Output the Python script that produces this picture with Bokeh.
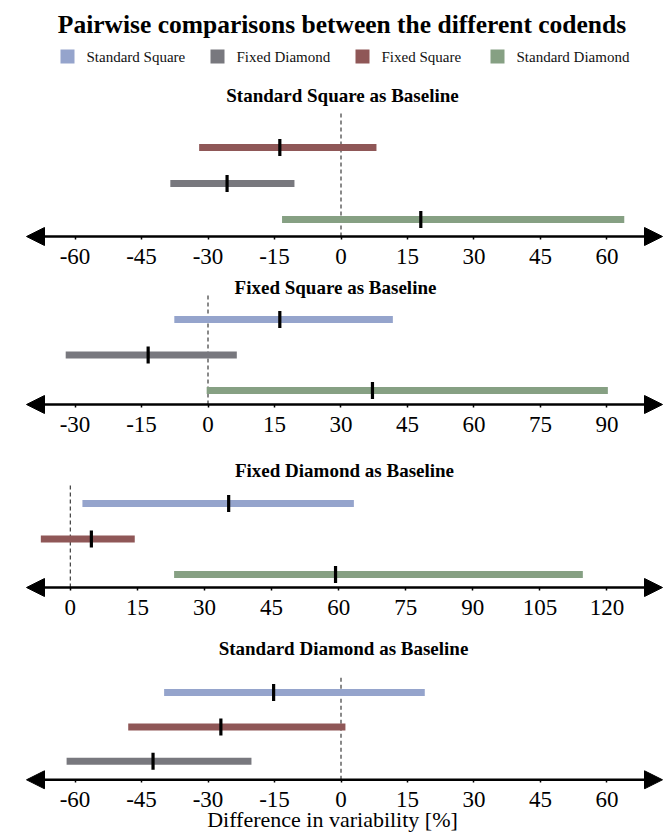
from bokeh.plotting import figure
from bokeh.layouts import column
from bokeh.models import Range1d, FixedTicker, Arrow, NormalHead, ColumnDataSource, Label
from bokeh.embed import file_html
from bokeh.resources import INLINE
from bokeh.core.properties import value

# ---------------- data ----------------
TITLE = "Pairwise comparisons between the different codends"
SERIES = ["Standard Square", "Fixed Diamond", "Fixed Square", "Standard Diamond"]
SERIES_COLORS = ["#95a4cc", "#78787e", "#8f5757", "#86a083"]
X_LABEL = "Difference in variability [%]"

p1_title = "Standard Square as Baseline"
p1_names = ["Fixed Square", "Fixed Diamond", "Standard Diamond"]
p1_low = [-32.0, -38.5, -13.3]
p1_high = [8.0, -10.5, 63.9]
p1_est = [-13.8, -25.7, 18.0]
p1_ticks = [-60, -45, -30, -15, 0, 15, 30, 45, 60]

p2_title = "Fixed Square as Baseline"
p2_names = ["Standard Square", "Fixed Diamond", "Standard Diamond"]
p2_low = [-7.6, -32.1, -0.3]
p2_high = [41.7, 6.5, 90.2]
p2_est = [16.2, -13.5, 37.1]
p2_ticks = [-30, -15, 0, 15, 30, 45, 60, 75, 90]

p3_title = "Fixed Diamond as Baseline"
p3_names = ["Standard Square", "Fixed Square", "Standard Diamond"]
p3_low = [2.7, -6.6, 23.2]
p3_high = [63.4, 14.4, 114.6]
p3_est = [35.4, 4.7, 59.3]
p3_ticks = [0, 15, 30, 45, 60, 75, 90, 105, 120]

p4_title = "Standard Diamond as Baseline"
p4_names = ["Standard Square", "Fixed Square", "Fixed Diamond"]
p4_low = [-39.9, -48.0, -61.9]
p4_high = [18.9, 1.0, -20.2]
p4_est = [-15.2, -27.1, -42.4]
p4_ticks = [-60, -45, -30, -15, 0, 15, 30, 45, 60]

# ---------------- layout (pixels) ----------------
W = 664
FONT = "Liberation Serif"
COLOR_OF = dict(zip(SERIES, SERIES_COLORS))
BELOW = 10  # frame extends this far below the arrow line so the heads are not clipped

# top/bot: y of figure edges, axis: y of arrow line, row1: y of lowest row,
# s: px per row, title: y of panel title, dash: y of top of zero line,
# zero: x px of value 0, ppu: px per unit, tx: x px of title centre
L1 = dict(top=80, bot=270, axis=236, row1=219, s=36.0, title=95, dash=110, zero=340.5, ppu=4.433, tx=342)
L2 = dict(top=270, bot=440, axis=404, row1=390, s=35.5, title=287, dash=295, zero=207.5, ppu=4.433, tx=335)
L3 = dict(top=440, bot=622, axis=587, row1=574, s=35.5, title=470, dash=482, zero=69.85, ppu=4.472, tx=344)
L4 = dict(top=622, bot=834, axis=784, row1=765, s=35.5, title=649, dash=679, zero=340.5, ppu=4.433, tx=343)


def header():
    H = 80
    p = figure(width=W, height=H, x_range=Range1d(0, W), y_range=Range1d(0, H),
               output_backend="svg", toolbar_location=None,
               x_axis_location=None, y_axis_location=None,
               min_border_left=0, min_border_right=0, min_border_top=0, min_border_bottom=0,
               outline_line_color=None, border_fill_color="white")
    p.grid.visible = False
    p.add_layout(Label(x=341.5, y=H - 24, text=TITLE, text_align="center", text_baseline="middle",
                       text_font=FONT, text_font_style="bold", text_font_size="25.5px",
                       text_color="black"))
    leg_x = [67, 217, 362, 497]
    ly = H - 56
    p.rect(x=leg_x, y=[ly] * 4, width=14, height=14, fill_color=SERIES_COLORS,
           line_color=None)
    p.text(x=[x + 19 for x in leg_x], y=[ly] * 4, text=SERIES, text_font=value(FONT),
           text_font_size="15px", text_align="left", text_baseline="middle", text_color="#111111")
    return p


def panel(names, low, high, est, ticks, title, L, xlabel=None):
    frame_bottom = L["axis"] + BELOW
    H = L["bot"] - L["top"]
    s = L["s"]
    y_axis = 1 - (L["axis"] - L["row1"]) / s
    y_start = 1 - (frame_bottom - L["row1"]) / s
    y_end = 1 + (L["row1"] - L["top"]) / s
    x_start = -L["zero"] / L["ppu"]
    x_end = (W - L["zero"]) / L["ppu"]
    p = figure(width=W, height=H, x_range=Range1d(x_start, x_end), y_range=Range1d(y_start, y_end),
               output_backend="svg", toolbar_location=None, y_axis_location=None,
               min_border_left=0, min_border_right=0, min_border_top=0,
               min_border_bottom=L["bot"] - frame_bottom, outline_line_color=None,
               border_fill_color="white")
    p.grid.visible = False

    n = len(names)
    rows = list(range(n, 0, -1))
    src = ColumnDataSource(dict(low=low, high=high, est=est, row=rows,
                                color=[COLOR_OF[k] for k in names]))
    # zero reference line
    y_dash = 1 + (L["row1"] - L["dash"]) / s
    p.segment(x0=[0], y0=[y_axis], x1=[0], y1=[y_dash], line_dash="4 3",
              line_color="#4a4a4a", line_width=1.3)
    p.segment(x0="low", y0="row", x1="high", y1="row", line_color="color", line_width=7,
              line_cap="butt", source=src)
    p.rect(x="est", y="row", width=3.2, height=17, width_units="screen", height_units="screen",
           fill_color="black", line_color=None, source=src)

    # double-headed arrow axis line
    ax0 = x_start + 26 / L["ppu"]
    ax1 = x_start + 662 / L["ppu"]
    p.add_layout(Arrow(start=NormalHead(size=18, fill_color="black", line_color="black", line_width=1),
                       end=NormalHead(size=18, fill_color="black", line_color="black", line_width=1),
                       x_start=ax0, x_end=ax1, y_start=y_axis, y_end=y_axis,
                       line_color="black", line_width=2.6))

    ty = 1 + (L["row1"] - L["title"]) / s
    tx = x_start + L["tx"] / L["ppu"]
    p.add_layout(Label(x=tx, y=ty, text=title, text_align="center", text_baseline="middle",
                       text_font=FONT, text_font_style="bold", text_font_size="19px",
                       text_color="black"))

    ax = p.xaxis[0]
    ax.ticker = FixedTicker(ticks=ticks)
    ax.major_label_overrides = {t: str(t) for t in ticks}
    ax.axis_line_color = None
    ax.major_tick_in = BELOW
    ax.major_tick_out = -(BELOW - 3)
    ax.major_tick_line_color = "black"
    ax.major_tick_line_width = 1.5
    ax.minor_tick_line_color = None
    ax.minor_tick_out = 0
    ax.minor_tick_in = 0
    ax.major_label_standoff = 2
    ax.major_label_text_font = FONT
    ax.major_label_text_font_size = "23px"
    ax.major_label_text_color = "black"
    if xlabel:
        ax.axis_label = xlabel
        ax.axis_label_text_font = FONT
        ax.axis_label_text_font_style = "normal"
        ax.axis_label_text_font_size = "22px"
        ax.axis_label_text_color = "black"
        ax.axis_label_standoff = -3
    return p


p0 = header()
pa = panel(p1_names, p1_low, p1_high, p1_est, p1_ticks, p1_title, L1)
pb = panel(p2_names, p2_low, p2_high, p2_est, p2_ticks, p2_title, L2)
pc = panel(p3_names, p3_low, p3_high, p3_est, p3_ticks, p3_title, L3)
pd = panel(p4_names, p4_low, p4_high, p4_est, p4_ticks, p4_title, L4, xlabel=X_LABEL)

layout = column(p0, pa, pb, pc, pd, spacing=0)
open("out.html", "w").write(file_html(layout, INLINE))
